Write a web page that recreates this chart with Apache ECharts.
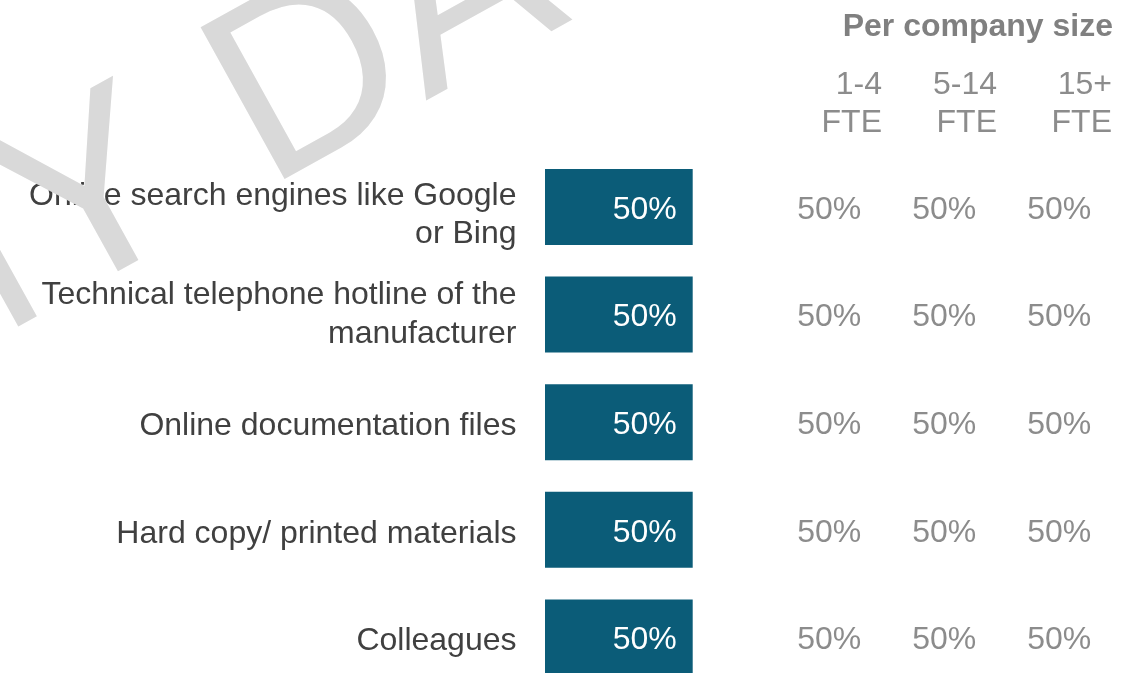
<!DOCTYPE html>
<html>
<head>
<meta charset="utf-8">
<title>Information sources</title>
<script src="https://cdn.jsdelivr.net/npm/echarts@6/dist/echarts.min.js"></script>
<style>
  html, body { margin: 0; padding: 0; background: #ffffff; }
  #chart { width: 1140px; height: 673px; }
</style>
</head>
<body>
<div id="chart"></div>
<script>
// Sources of support, overall share and share per company size
const categories = [
  'Online search engines like Google\nor Bing',
  'Technical telephone hotline of the\nmanufacturer',
  'Online documentation files',
  'Hard copy/ printed materials',
  'Colleagues'
];
const totalShare = [0.5, 0.5, 0.5, 0.5, 0.5];

const sizeGroups = ['1-4\nFTE', '5-14\nFTE', '15+\nFTE'];
const share1to4 = [0.5, 0.5, 0.5, 0.5, 0.5];
const share5to14 = [0.5, 0.5, 0.5, 0.5, 0.5];
const share15plus = [0.5, 0.5, 0.5, 0.5, 0.5];

const titleText = 'Per company size';
const watermarkWords = ['DUMMY', 'DATA'];

const FONT = '"Liberation Sans", Arial, sans-serif';
const pct = v => Math.round(v * 100) + '%';

// table cells: [group index, category index, value]
const sizeColumns = [share1to4, share5to14, share15plus];
const cellData = [];
sizeColumns.forEach((col, g) => col.forEach((v, c) => cellData.push([g, c, v])));

// row names are drawn as labels anchored at the start of each bar row
const labelNudgeY = [8, 0, 4, 4, 4];
const nameData = categories.map((c, i) => ({
  value: [0, i],
  label: { offset: [0, labelNudgeY[i]] }
}));

const chart = echarts.init(document.getElementById('chart'), null, { renderer: 'canvas' });

const WM_ROT = 29 * Math.PI / 180;
const WM_SIZE = 252;

const ROW_TOP = 207;
const ROW_SPAN = 430.4;

// invisible anchor points for text-only series
const hiddenPoint = { color: 'rgba(255,255,255,0)', opacity: 1 };

chart.setOption({
  animation: false,
  backgroundColor: '#ffffff',
  title: {
    text: titleText,
    right: 22,
    top: 6,
    textStyle: { fontFamily: FONT, fontSize: 32, fontWeight: 'bold', color: '#808080' }
  },
  grid: [
    { left: 545, top: ROW_TOP, width: 295.4, height: ROW_SPAN, containLabel: false },
    { left: 882, top: ROW_TOP, width: 230, height: ROW_SPAN, containLabel: false }
  ],
  xAxis: [
    { gridIndex: 0, type: 'value', min: 0, max: 1, show: false },
    {
      gridIndex: 1, type: 'category', data: sizeGroups, position: 'top', boundaryGap: false,
      offset: ROW_TOP - 153.2,
      axisLine: { show: false }, axisTick: { show: false }, splitLine: { show: false },
      axisLabel: {
        interval: 0,
        fontFamily: FONT, fontSize: 32, color: '#8c8c8c', align: 'right',
        lineHeight: 38, margin: 11
      }
    }
  ],
  yAxis: [
    {
      gridIndex: 0, type: 'category', inverse: true, boundaryGap: false,
      data: categories,
      axisLine: { show: false }, axisTick: { show: false }, splitLine: { show: false },
      axisLabel: { show: false }
    },
    { gridIndex: 1, type: 'category', inverse: true, boundaryGap: false, data: categories, show: false }
  ],
  series: [
    {
      type: 'bar',
      xAxisIndex: 0, yAxisIndex: 0,
      data: totalShare,
      barWidth: 76,
      itemStyle: { color: '#0b5c78' },
      label: {
        show: true, position: 'insideRight', distance: 16, offset: [0, 3],
        fontFamily: FONT, fontSize: 32, color: '#ffffff',
        formatter: p => pct(p.value)
      }
    },
    {
      type: 'scatter',
      xAxisIndex: 0, yAxisIndex: 0,
      data: nameData,
      symbolSize: 1,
      itemStyle: hiddenPoint,
      silent: true,
      label: {
        show: true, position: 'left', distance: 28, align: 'right',
        fontFamily: FONT, fontSize: 32, color: '#404040', lineHeight: 38.5,
        formatter: p => categories[p.dataIndex]
      }
    },
    {
      type: 'scatter',
      xAxisIndex: 1, yAxisIndex: 1,
      data: cellData,
      symbolSize: 1,
      itemStyle: hiddenPoint,
      silent: true,
      label: {
        show: true, position: 'inside', offset: [-52.8, 3],
        fontFamily: FONT, fontSize: 32, color: '#8c8c8c',
        formatter: p => pct(p.value[2])
      }
    }
  ],
  graphic: [
    {
      type: 'group',
      x: 294, y: 238.4,
      rotation: WM_ROT,
      z: 100,
      children: [
        {
          type: 'text', x: 0, y: 0, z: 100,
          style: { text: watermarkWords[1], fontFamily: FONT, fontSize: WM_SIZE, fill: '#d9d9d9', align: 'left', verticalAlign: 'bottom' }
        },
        {
          type: 'text', x: -74, y: 0, z: 100,
          style: { text: watermarkWords[0], fontFamily: FONT, fontSize: WM_SIZE, fill: '#d9d9d9', align: 'right', verticalAlign: 'bottom' }
        }
      ]
    }
  ]
});
</script>
</body>
</html>
